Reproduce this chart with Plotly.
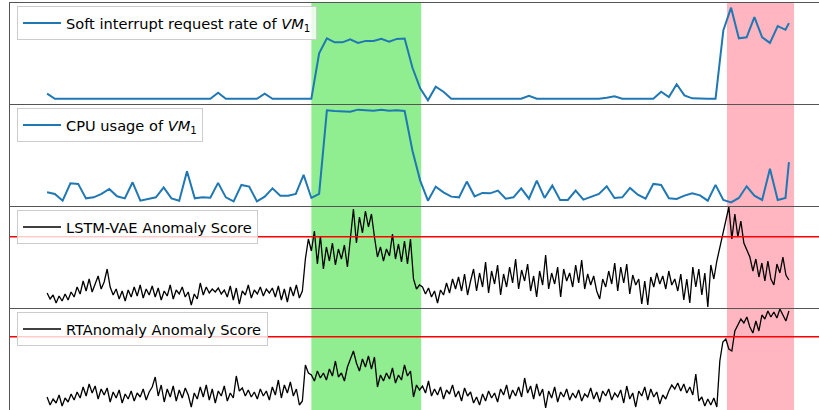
import numpy as np
import plotly.graph_objects as go
from plotly.subplots import make_subplots

# ---------------- data ----------------
# sample index of the two metric series (last sample arrives a bit early)
metric_t = list(range(96)) + [95.44]

soft_irq = [5] + [0] * 21 + [6] + [0] * 5 + [5] + [0] * 6 + [
    45, 60, 56, 56, 59, 55.4, 57.4, 57.4, 59.4, 56.7, 59.4, 59.7, 31, 10.4, -1.6, 12, 7] + [0] * 10 + [
    3] + [0] * 9 + [1, 2.4] + [0] * 5 + [7, 1.7, 14.4, 3.4, 0.4] + [0] * 3 + [
    67.7, 90.4, 60, 61, 81, 61, 55.4, 72, 68.4, 75]

cpu_usage = [
    10.3, 8.7, 2, 19.3, 18.7, 4.3, 5.3, 8.7, 13.7, 6.3, 4.3, 20.3, 2, 3.3, 5.3, 15.3, 4.3, 2, 31.3, 4.3,
    5.3, 5, 19.7, 5.3, 1.3, 17.7, 16, 1.3, 6, 14.3, 7, 7, 8.7, 27.7, 4.7, 8.7, 92, 91.3, 91.3, 90.7,
    92.7, 92, 91.7, 92.7, 91.7, 92, 91.3, 52, 22, 2, 16, 10.3, 6, 5.3, 21, 6.3, 9.7, 9.3, 12, 4,
    5.3, 14.3, 4, 22, 4.7, 17, 2.7, 2.7, 12, 3, 6, 8.7, 16.3, 4.7, 5.3, 14.7, 8, 4, 18.7, 17.7,
    4.3, 3.7, 7, 9.3, 7.3, 2, 17.7, 2.7, 0.3, 4.7, 16.3, 7, 2.7, 33.7, 2.7, 4.7, 40.3]

lstm_vae_score = [v / 100 for v in [
    16, 10, 14, 6, 13, 8, 15, 9, 17, 12, 22, 15, 28, 18, 30, 17, 25, 33, 20, 27,
    40, 22, 14, 20, 10, 18, 8, 19, 12, 22, 13, 24, 11, 20, 14, 23, 12, 21, 9, 18,
    13, 24, 10, 19, 15, 22, 12, 17, 4, 15, 10, 26, 14, 22, 16, 20, 17, 21, 15, 19,
    12, 23, 9, 21, 5, 18, 14, 24, 11, 19, 15, 22, 13, 20, 16, 21, 12, 23, 9, 20,
    7, 22, 13, 24, 11, 18,
    50, 70, 58, 78, 45, 73, 40, 62, 48, 66, 44, 60, 50, 64, 42, 70, 100, 66, 92, 76,
    98, 82, 95, 72, 52, 62, 48, 60, 53, 75, 50, 65, 47, 68, 45, 70, 30, 20, 24,
    22, 15, 21, 12, 18, 6, 19, 14, 26, 16, 30, 20, 32, 18, 35, 14, 28, 40, 18, 36,
    22, 47, 16, 38, 25, 44, 14, 35, 22, 42, 26, 50, 20, 39, 28, 45, 18, 33, 12, 38,
    24, 54, 20, 36, 25, 42, 12, 40, 28, 36, 22, 44, 26, 49, 20, 35, 24, 33, 18, 10,
    30, 22, 38, 25, 46, 18, 42, 26, 45, 15, 34, 24, 30, 5, 28, 4, 32, 22, 36, 25,
    33, 20, 38, 24, 30, 18, 35, 9, 30, 6, 42, 22, 40, 14, 36, 2, 44, 30, 48, 62,
    74,
    90, 102, 70, 95, 72, 88, 66, 58, 52, 38, 50, 32, 46, 28, 48, 30, 24, 45, 36, 52,
    34, 29]]

rtanomaly_score = [v / 100 for v in [
    14, 6, 12, 8, 16, 5, 13, 9, 17, 11, 19, 13, 24, 15, 27, 18, 25, 12, 22, 16,
    23, 9, 19, 13, 21, 8, 17, 12, 20, 10, 18, 14, 22, 11, 19, 24, 34, 15, 26, 9,
    22, 14, 25, 10, 21, 13, 23, 16, 4, 18, 12, 24, 14, 26, 11, 22, 8, 20, 15, 25,
    10, 18, 13, 35, 20, 23, 15, 21, 14, 19, 12, 22, 15, 20, 11, 24, 16, 31, 13, 26,
    18, 29, 15, 22, 6, 10,
    46, 38, 36, 30, 40, 33, 38, 31, 42, 35, 50, 34, 38, 30, 44, 52, 60, 48, 40, 52,
    44, 55, 42, 54, 24, 36, 30, 38, 32, 43, 28, 36, 31, 46, 35, 40, 14, 26, 21,
    25, 18, 30, 15, 22, 16, 24, 12, 21, 17, 26, 14, 20, 10, 23, 15, 19, 8, 14, 6,
    17, 10, 20, 13, 18, 9, 22, 16, 26, 12, 21, 15, 24, 14, 33, 18, 25, 12, 27, 15,
    22, 3, 20, 13, 24, 9, 19, 14, 22, 11, 18, 13, 21, 10, 17, 14, 23, 12, 19, 9,
    20, 15, 22, 11, 18, 14, 21, 8, 25, 12, 18, 4, 20, 15, 24, 11, 22, 14, 19, 7,
    16, 12, 20, 26, 22, 28, 20, 27, 18, 24, 16, 37, 10, 14, 5, 12, 6, 13, 4, 50,
    69,
    72, 62, 60, 80, 86, 92, 88, 94, 84, 78, 90, 80, 96, 92, 100, 94, 99, 93, 102, 96,
    90, 100]]

# anomaly scores are sampled more densely over the same time span
score_t = np.linspace(metric_t[0], metric_t[-1], len(lstm_vae_score))

lstm_threshold = 0.723
rt_threshold = 0.743

cpu_anomaly_span = (34.0, 48.13)     # green
irq_anomaly_span = (87.47, 96.1)     # pink

labels = [
    "Soft interrupt request rate of <i>VM</i><sub>1</sub>",
    "CPU usage of <i>VM</i><sub>1</sub>",
    "LSTM-VAE Anomaly Score",
    "RTAnomaly Anomaly Score",
]

# ---------------- figure ----------------
W, H = 819, 410
ML, MT = 10, 3
PW, PH = W - ML, H - MT

fig = make_subplots(rows=4, cols=1, vertical_spacing=0)

BLUE = "#1f77b4"
fig.add_trace(go.Scatter(x=metric_t, y=soft_irq, mode="lines", line=dict(color=BLUE, width=2),
                         name=labels[0], legend="legend"), row=1, col=1)
fig.add_trace(go.Scatter(x=metric_t, y=cpu_usage, mode="lines", line=dict(color=BLUE, width=2),
                         name=labels[1], legend="legend2"), row=2, col=1)
fig.add_trace(go.Scatter(x=score_t, y=lstm_vae_score, mode="lines", line=dict(color="black", width=1.3),
                         name=labels[2], legend="legend3"), row=3, col=1)
fig.add_trace(go.Scatter(x=score_t, y=rtanomaly_score, mode="lines", line=dict(color="black", width=1.3),
                         name=labels[3], legend="legend4"), row=4, col=1)

fig.add_hline(y=lstm_threshold, line=dict(color="red", width=1.6), row=3, col=1)
fig.add_hline(y=rt_threshold, line=dict(color="red", width=1.6), row=4, col=1)

for (x0, x1), col in [(cpu_anomaly_span, "#90EE90"), (irq_anomaly_span, "#FFB6C1")]:
    fig.add_shape(type="rect", xref="x", yref="paper", x0=x0, x1=x1, y0=0, y1=1,
                  fillcolor=col, line_width=0, layer="below")


def auto_range(vals):
    lo, hi = min(vals), max(vals)
    pad = 0.05 * (hi - lo)
    return [lo - pad, hi + pad]


# x range: matplotlib-style 5% margins; the right part is cropped off in the picture
xr = auto_range(metric_t)
ref_axis_px = 816
x_range = [xr[0], xr[0] + (xr[1] - xr[0]) * PW / ref_axis_px]

# panel boundaries in pixels from the top of the figure
tops = [3, 105, 207, 309]
bots = [105, 207, 309, 410]
y_ranges = [auto_range(soft_irq), auto_range(cpu_usage), [0, 1.02], [0.01, 1.02]]

LINE = "#555555"
for i in range(4):
    n = "" if i == 0 else str(i + 1)
    dom = [(H - bots[i]) / PH, (H - tops[i]) / PH]
    fig.layout["yaxis" + n].update(domain=dom, range=y_ranges[i], showticklabels=False, ticks="",
                                   showgrid=False, zeroline=False, showline=True,
                                   linecolor=LINE, linewidth=1)
    fig.layout["xaxis" + n].update(range=x_range, showticklabels=False, ticks="", showgrid=False,
                                   zeroline=False, showline=True, side="top", mirror=False,
                                   linecolor=LINE, linewidth=1)

leg_tops = [6, 108, 210, 312]
leg_common = dict(xanchor="left", yanchor="top", bgcolor="rgba(255,255,255,0.8)",
                  bordercolor="#cccccc", borderwidth=1, itemwidth=38,
                  font=dict(family="DejaVu Sans", size=14.6, color="black"))
for i, name in enumerate(["legend", "legend2", "legend3", "legend4"]):
    fig.layout[name] = dict(x=7 / PW, y=(H - leg_tops[i]) / PH, **leg_common)

fig.update_layout(width=W, height=H, margin=dict(l=ML, r=0, t=MT, b=0),
                  paper_bgcolor="white", plot_bgcolor="white", showlegend=True,
                  font=dict(family="DejaVu Sans"))

fig.write_html("out.html")
